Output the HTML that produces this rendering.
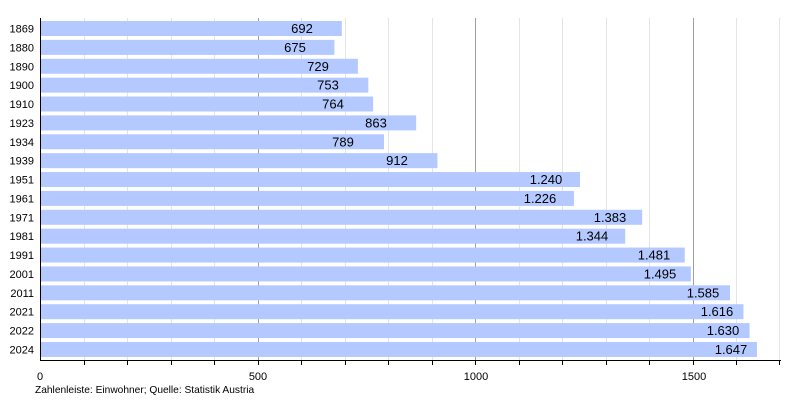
<!DOCTYPE html>
<html><head><meta charset="utf-8"><style>body{margin:0;background:#fff}svg{display:block}</style></head><body>
<svg width="800" height="400" xmlns="http://www.w3.org/2000/svg" font-family="Liberation Sans, sans-serif">
<g id="grid"></g>
<g id="bars"></g>
<g id="txt"></g>
<line x1="40.5" y1="18" x2="40.5" y2="361" stroke="#000"/>
<line x1="40" y1="360.5" x2="781" y2="360.5" stroke="#000"/>
<text x="40" y="380" font-size="11" text-anchor="middle">0</text>
<text x="258" y="380" font-size="11" text-anchor="middle">500</text>
<text x="476" y="380" font-size="11" text-anchor="middle">1000</text>
<text x="694" y="380" font-size="11" text-anchor="middle">1500</text>
<text x="35" y="393" font-size="10.2">Zahlenleiste: Einwohner; Quelle: Statistik Austria</text>
<script>
var ns="http://www.w3.org/2000/svg";
function el(p,t,a,tx){var e=document.createElementNS(ns,t);for(var k in a)e.setAttribute(k,a[k]);if(tx)e.textContent=tx;document.getElementById(p).appendChild(e);}
var s=0.4347,x0=40.5;
for(var v=100;v<=1700;v+=100){var x=Math.round(x0+v*s)+0.5;var maj=v%500==0;
el("grid","line",{x1:x,y1:18,x2:x,y2:360,stroke:maj?"#a0a0a0":"#e4e4e4"});
el("grid","line",{x1:x,y1:360,x2:x,y2:365,stroke:"#000"});}
var d=[["1869",692,"692",302],["1880",675,"675",295],["1890",729,"729",318],["1900",753,"753",328],["1910",764,"764",333],["1923",863,"863",376],["1934",789,"789",343],["1939",912,"912",397],["1951",1240,"1.240",546],["1961",1226,"1.226",540],["1971",1383,"1.383",610],["1981",1344,"1.344",592],["1991",1481,"1.481",654],["2001",1495,"1.495",660],["2011",1585,"1.585",703],["2021",1616,"1.616",717],["2022",1630,"1.630",723],["2024",1647,"1.647",731]];
d.forEach(function(r,i){var y=21+i*18.88;
el("bars","rect",{x:41,y:y,width:r[1]*s,height:15,fill:"#b3c9ff"});
el("txt","text",{x:34,y:y+11.5,"font-size":11,"text-anchor":"end"},r[0]);
el("txt","text",{x:r[3],y:y+12,"font-size":13,"text-anchor":"middle"},r[2]);});
</script>
</svg>
</body></html>
